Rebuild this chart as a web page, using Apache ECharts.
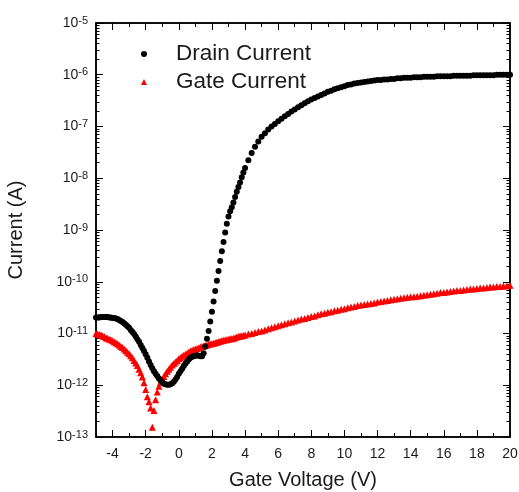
<!DOCTYPE html>
<html>
<head>
<meta charset="utf-8">
<script src="https://cdn.jsdelivr.net/npm/echarts@6/dist/echarts.min.js"></script>
<style>
  html, body { margin: 0; padding: 0; background: #fff; }
  #chart { width: 519px; height: 492px; }
</style>
</head>
<body>
<div id="chart"></div>
<script>
// gate voltage sweep (V): 0.1 V steps up to 4 V, then 0.2 V steps
const gateVoltage = [
  -5.0,-4.9,-4.8,-4.7,-4.6,-4.5,-4.4,-4.3,-4.2,-4.1,
  -4.0,-3.9,-3.8,-3.7,-3.6,-3.5,-3.4,-3.3,-3.2,-3.1,
  -3.0,-2.9,-2.8,-2.7,-2.6,-2.5,-2.4,-2.3,-2.2,-2.1,
  -2.0,-1.9,-1.8,-1.7,-1.6,-1.5,-1.4,-1.3,-1.2,-1.1,
  -1.0,-0.9,-0.8,-0.7,-0.6,-0.5,-0.4,-0.3,-0.2,-0.1,
  0.0,0.1,0.2,0.3,0.4,0.5,0.6,0.7,0.8,0.9,
  1.0,1.1,1.2,1.3,1.4,1.5,1.6,1.7,1.8,1.9,
  2.0,2.1,2.2,2.3,2.4,2.5,2.6,2.7,2.8,2.9,
  3.0,3.1,3.2,3.3,3.4,3.5,3.6,3.7,3.8,3.9,
  4.0,4.2,4.4,4.6,4.8,5.0,5.2,5.4,5.6,5.8,
  6.0,6.2,6.4,6.6,6.8,7.0,7.2,7.4,7.6,7.8,
  8.0,8.2,8.4,8.6,8.8,9.0,9.2,9.4,9.6,9.8,
  10.0,10.2,10.4,10.6,10.8,11.0,11.2,11.4,11.6,11.8,
  12.0,12.2,12.4,12.6,12.8,13.0,13.2,13.4,13.6,13.8,
  14.0,14.2,14.4,14.6,14.8,15.0,15.2,15.4,15.6,15.8,
  16.0,16.2,16.4,16.6,16.8,17.0,17.2,17.4,17.6,17.8,
  18.0,18.2,18.4,18.6,18.8,19.0,19.2,19.4,19.6,19.8,
  20.0
]

// log10 of drain current (A)
const drainExp = [
  -10.69,-10.69,-10.69,-10.68,-10.68,-10.68,-10.68,-10.68,-10.69,-10.69,
  -10.70,-10.70,-10.71,-10.72,-10.74,-10.76,-10.78,-10.80,-10.83,-10.86,
  -10.89,-10.93,-10.97,-11.01,-11.06,-11.11,-11.16,-11.22,-11.28,-11.34,
  -11.40,-11.47,-11.54,-11.61,-11.67,-11.73,-11.78,-11.82,-11.87,-11.91,
  -11.94,-11.97,-11.98,-11.99,-11.99,-11.98,-11.96,-11.93,-11.89,-11.84,
  -11.78,-11.73,-11.68,-11.63,-11.58,-11.54,-11.50,-11.47,-11.45,-11.44,
  -11.43,-11.42,-11.43,-11.44,-11.44,-11.38,-11.25,-11.10,-10.95,-10.77,
  -10.58,-10.38,-10.18,-9.98,-9.79,-9.60,-9.41,-9.23,-9.05,-8.88,
  -8.74,-8.64,-8.56,-8.47,-8.36,-8.26,-8.17,-8.08,-7.98,-7.89,
  -7.80,-7.65,-7.51,-7.39,-7.29,-7.20,-7.13,-7.06,-7.00,-6.95,
  -6.90,-6.85,-6.80,-6.76,-6.71,-6.67,-6.63,-6.59,-6.55,-6.51,
  -6.48,-6.45,-6.42,-6.39,-6.36,-6.33,-6.31,-6.28,-6.26,-6.24,
  -6.22,-6.20,-6.19,-6.17,-6.16,-6.15,-6.14,-6.13,-6.12,-6.11,
  -6.10,-6.10,-6.09,-6.09,-6.08,-6.08,-6.07,-6.07,-6.06,-6.06,
  -6.06,-6.05,-6.05,-6.05,-6.04,-6.04,-6.04,-6.04,-6.03,-6.03,
  -6.03,-6.03,-6.03,-6.02,-6.02,-6.02,-6.02,-6.02,-6.02,-6.01,
  -6.01,-6.01,-6.01,-6.01,-6.01,-6.01,-6.00,-6.00,-6.00,-6.00,
  -6.00
]

// log10 of gate current (A)
const gateExp = [
  -11.00,-11.01,-11.02,-11.03,-11.05,-11.06,-11.08,-11.09,-11.11,-11.12,
  -11.14,-11.16,-11.18,-11.20,-11.22,-11.25,-11.27,-11.30,-11.33,-11.36,
  -11.39,-11.43,-11.47,-11.52,-11.57,-11.62,-11.69,-11.76,-11.84,-11.95,
  -12.08,-12.22,-12.32,-12.44,-12.81,-12.49,-12.28,-12.13,-12.02,-11.94,
  -11.88,-11.83,-11.78,-11.73,-11.69,-11.65,-11.61,-11.58,-11.55,-11.52,
  -11.49,-11.47,-11.44,-11.42,-11.40,-11.38,-11.36,-11.34,-11.33,-11.31,
  -11.30,-11.29,-11.28,-11.26,-11.25,-11.24,-11.23,-11.22,-11.21,-11.20,
  -11.20,-11.19,-11.18,-11.17,-11.16,-11.15,-11.14,-11.13,-11.12,-11.12,
  -11.11,-11.10,-11.10,-11.09,-11.08,-11.07,-11.06,-11.05,-11.05,-11.04,
  -11.03,-11.01,-11.00,-10.98,-10.96,-10.95,-10.93,-10.91,-10.89,-10.87,
  -10.85,-10.83,-10.81,-10.79,-10.78,-10.76,-10.74,-10.72,-10.71,-10.69,
  -10.67,-10.66,-10.64,-10.62,-10.61,-10.59,-10.58,-10.56,-10.55,-10.53,
  -10.52,-10.50,-10.49,-10.48,-10.46,-10.45,-10.44,-10.43,-10.42,-10.41,
  -10.39,-10.38,-10.37,-10.36,-10.35,-10.34,-10.33,-10.32,-10.31,-10.30,
  -10.29,-10.29,-10.28,-10.27,-10.26,-10.25,-10.24,-10.23,-10.22,-10.21,
  -10.21,-10.20,-10.19,-10.18,-10.17,-10.17,-10.16,-10.15,-10.14,-10.14,
  -10.13,-10.12,-10.12,-10.11,-10.10,-10.10,-10.09,-10.09,-10.08,-10.08,
  -10.07
]

const xMajorTicks = [-4, -2, 0, 2, 4, 6, 8, 10, 12, 14, 16, 18, 20]

const FONT = 'Liberation Sans, Arial, sans-serif'
const INK = '#1a1a1a'

// minor log ticks (2..9 of each decade), placed on a helper linear axis in exponent units
const yMinorTicks = []
for (let d = -13; d < -5; d++) {
  for (let k = 2; k <= 9; k++) yMinorTicks.push(d + Math.log10(k))
}

const drainData = gateVoltage.map((v, i) => [v, Math.pow(10, drainExp[i])])
const gateData = gateVoltage.map((v, i) => [v, Math.pow(10, gateExp[i])])

const axisLine = (show) => ({ show, onZero: false, lineStyle: { color: '#000', width: 1.5 } })

// main x axis: a tick at every volt (short), labels only on even values
function xMain(position, withLabel) {
  const ax = {
    type: 'value', min: -5, max: 20, interval: 1, position,
    axisLine: axisLine(true),
    axisTick: { inside: true, length: 4 },
    axisLabel: withLabel
      ? { color: INK, fontFamily: FONT, fontSize: 14, margin: 10, formatter: (v) => (v % 2 === 0 ? String(v) : '') }
      : { show: false },
    splitLine: { show: false }
  }
  if (withLabel) {
    Object.assign(ax, {
      name: 'Gate Voltage (V)', nameLocation: 'middle', nameGap: 33,
      nameTextStyle: { color: INK, fontFamily: FONT, fontSize: 20 }
    })
  }
  return ax
}

// helper x axis: longer ticks on the even values
function xLong(position) {
  return {
    type: 'value', min: -5, max: 20, position,
    axisLine: axisLine(false),
    axisTick: { inside: true, length: 7, customValues: xMajorTicks },
    axisLabel: { show: false },
    splitLine: { show: false }
  }
}

function yMain(position, withLabel) {
  const ax = {
    type: 'log', logBase: 10, min: 1e-13, max: 1e-5, interval: 1, position,
    axisLine: axisLine(true),
    axisTick: { inside: true, length: 7 },
    minorTick: { show: false },
    splitLine: { show: false },
    axisLabel: withLabel ? {
      margin: 8,
      formatter: (val) => '{b|10}{s|' + Math.round(Math.log10(val)) + '}',
      rich: {
        b: { fontFamily: FONT, fontSize: 14, color: INK, lineHeight: 16 },
        s: { fontFamily: FONT, fontSize: 11, color: INK, lineHeight: 9, verticalAlign: 'top' }
      }
    } : { show: false }
  }
  if (withLabel) {
    Object.assign(ax, {
      name: 'Current (A)', nameLocation: 'middle', nameGap: 70, nameRotate: 90,
      nameTextStyle: { color: INK, fontFamily: FONT, fontSize: 20 }
    })
  }
  return ax
}

function yMinor(position) {
  return {
    type: 'value', min: -13, max: -5, position,
    axisLine: axisLine(false),
    axisTick: { inside: true, length: 3.5, customValues: yMinorTicks },
    axisLabel: { show: false },
    splitLine: { show: false }
  }
}

const chart = echarts.init(document.getElementById('chart'), null, { renderer: 'canvas' })

chart.setOption({
  animation: false,
  backgroundColor: '#fff',
  grid: {
    left: 96, right: 9, top: 23, bottom: 55,
    outerBoundsMode: 'none',
    show: true, borderColor: '#000', borderWidth: 1.5, backgroundColor: 'transparent'
  },
  legend: {
    orient: 'vertical',
    left: 141,
    top: 42,
    padding: 0,
    itemWidth: 6,
    itemHeight: 6,
    itemGap: 4,
    data: [
      { name: 'Drain Current', icon: 'circle' },
      { name: 'Gate Current', icon: 'triangle' }
    ],
    textStyle: { color: INK, fontFamily: FONT, fontSize: 22.5, lineHeight: 24, padding: [0, 0, 0, 24] }
  },
  xAxis: [xMain('bottom', true), xMain('top', false), xLong('bottom'), xLong('top')],
  yAxis: [yMain('left', true), yMain('right', false), yMinor('left'), yMinor('right')],
  series: [
    {
      name: 'Gate Current',
      type: 'scatter',
      symbol: 'triangle',
      symbolSize: 7,
      itemStyle: { color: '#ff0000', opacity: 1 },
      xAxisIndex: 0,
      yAxisIndex: 0,
      data: gateData
    },
    {
      name: 'Drain Current',
      type: 'scatter',
      symbol: 'circle',
      symbolSize: 6,
      itemStyle: { color: '#000', opacity: 1 },
      xAxisIndex: 0,
      yAxisIndex: 0,
      data: drainData
    }
  ]
})
</script>
</body>
</html>
